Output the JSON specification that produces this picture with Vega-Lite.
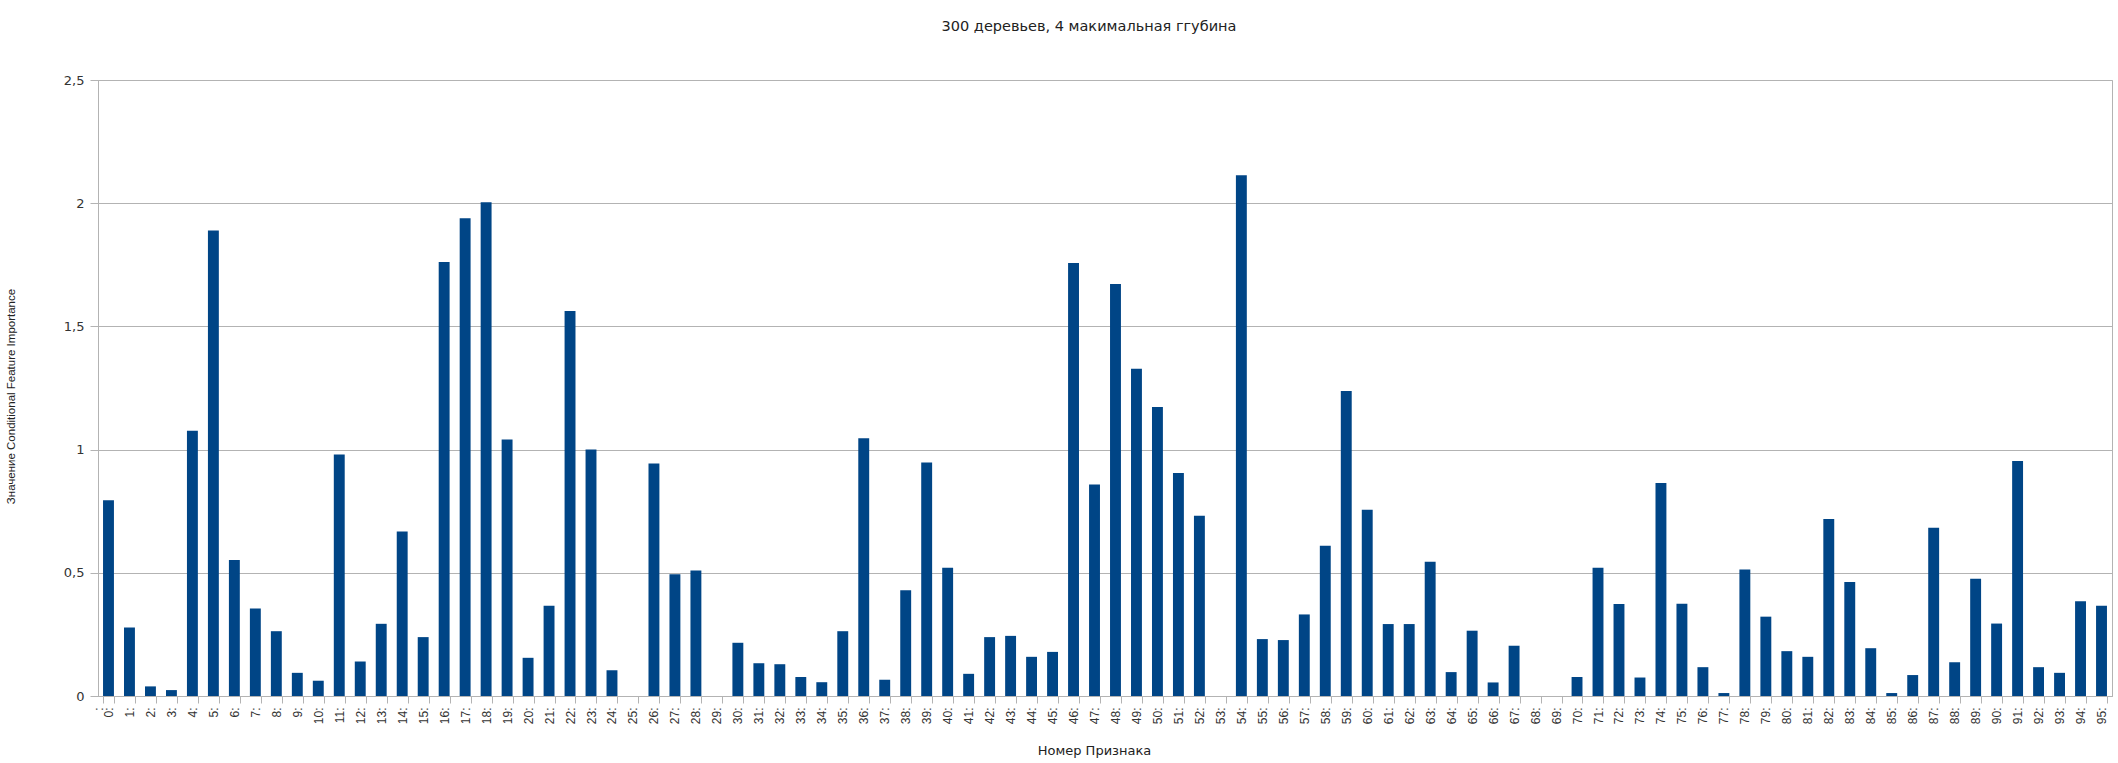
{
  "$schema": "https://vega.github.io/schema/vega-lite/v6.json",
  "autosize": {"type": "none"},
  "padding": {"left": 98, "top": 80, "right": 6, "bottom": 67},
  "width": 2014,
  "height": 616,
  "background": "white",
  "title": {
    "text": "300 деревьев, 4 макимальная ггубина",
    "font": "DejaVu Sans",
    "fontSize": 14.5,
    "fontWeight": "normal",
    "color": "#222222",
    "anchor": "middle",
    "dx": -16,
    "offset": 40
  },
  "data": {
    "values": [
      {"feature": 0, "value": 0.794}, {"feature": 1, "value": 0.278}, {"feature": 2, "value": 0.039},
      {"feature": 3, "value": 0.024}, {"feature": 4, "value": 1.076}, {"feature": 5, "value": 1.889},
      {"feature": 6, "value": 0.552}, {"feature": 7, "value": 0.355}, {"feature": 8, "value": 0.263},
      {"feature": 9, "value": 0.094}, {"feature": 10, "value": 0.062}, {"feature": 11, "value": 0.98},
      {"feature": 12, "value": 0.14}, {"feature": 13, "value": 0.293}, {"feature": 14, "value": 0.668},
      {"feature": 15, "value": 0.239}, {"feature": 16, "value": 1.761}, {"feature": 17, "value": 1.939},
      {"feature": 18, "value": 2.004}, {"feature": 19, "value": 1.041}, {"feature": 20, "value": 0.155},
      {"feature": 21, "value": 0.366}, {"feature": 22, "value": 1.562}, {"feature": 23, "value": 1.0},
      {"feature": 24, "value": 0.104}, {"feature": 25, "value": 0}, {"feature": 26, "value": 0.944},
      {"feature": 27, "value": 0.494}, {"feature": 28, "value": 0.509}, {"feature": 29, "value": 0},
      {"feature": 30, "value": 0.216}, {"feature": 31, "value": 0.133}, {"feature": 32, "value": 0.129},
      {"feature": 33, "value": 0.077}, {"feature": 34, "value": 0.056}, {"feature": 35, "value": 0.263},
      {"feature": 36, "value": 1.046}, {"feature": 37, "value": 0.066}, {"feature": 38, "value": 0.429},
      {"feature": 39, "value": 0.948}, {"feature": 40, "value": 0.521}, {"feature": 41, "value": 0.09},
      {"feature": 42, "value": 0.239}, {"feature": 43, "value": 0.244}, {"feature": 44, "value": 0.159},
      {"feature": 45, "value": 0.179}, {"feature": 46, "value": 1.757}, {"feature": 47, "value": 0.858},
      {"feature": 48, "value": 1.672}, {"feature": 49, "value": 1.328}, {"feature": 50, "value": 1.173},
      {"feature": 51, "value": 0.905}, {"feature": 52, "value": 0.732}, {"feature": 53, "value": 0},
      {"feature": 54, "value": 2.113}, {"feature": 55, "value": 0.231}, {"feature": 56, "value": 0.227},
      {"feature": 57, "value": 0.331}, {"feature": 58, "value": 0.61}, {"feature": 59, "value": 1.238},
      {"feature": 60, "value": 0.756}, {"feature": 61, "value": 0.292}, {"feature": 62, "value": 0.292},
      {"feature": 63, "value": 0.545}, {"feature": 64, "value": 0.097}, {"feature": 65, "value": 0.265},
      {"feature": 66, "value": 0.055}, {"feature": 67, "value": 0.204}, {"feature": 68, "value": 0},
      {"feature": 69, "value": 0}, {"feature": 70, "value": 0.077}, {"feature": 71, "value": 0.52},
      {"feature": 72, "value": 0.373}, {"feature": 73, "value": 0.075}, {"feature": 74, "value": 0.864},
      {"feature": 75, "value": 0.374}, {"feature": 76, "value": 0.117}, {"feature": 77, "value": 0.012},
      {"feature": 78, "value": 0.513}, {"feature": 79, "value": 0.322}, {"feature": 80, "value": 0.182},
      {"feature": 81, "value": 0.159}, {"feature": 82, "value": 0.718}, {"feature": 83, "value": 0.463},
      {"feature": 84, "value": 0.194}, {"feature": 85, "value": 0.012}, {"feature": 86, "value": 0.085},
      {"feature": 87, "value": 0.683}, {"feature": 88, "value": 0.137}, {"feature": 89, "value": 0.476},
      {"feature": 90, "value": 0.294}, {"feature": 91, "value": 0.954}, {"feature": 92, "value": 0.117},
      {"feature": 93, "value": 0.094}, {"feature": 94, "value": 0.385}, {"feature": 95, "value": 0.366}
    ]
  },
  "mark": {"type": "bar", "color": "#004586"},
  "encoding": {
    "x": {
      "field": "feature",
      "type": "ordinal",
      "scale": {"paddingInner": 0.48, "paddingOuter": 0.24},
      "axis": {
        "title": "Номер Признака",
        "titleFont": "DejaVu Sans",
        "titleFontSize": 13,
        "titleFontWeight": "normal",
        "titleColor": "#222222",
        "titleX": 996,
        "titleY": 54,
        "titleBaseline": "middle",
        "titleAnchor": "middle",
        "labelExpr": "datum.label + ':'",
        "labelAngle": 270,
        "labelAlign": "right",
        "labelBaseline": "middle",
        "labelFont": "Liberation Sans",
        "labelFontSize": 12,
        "labelColor": "#333333",
        "labelPadding": 4,
        "labelOverlap": false,
        "tickBand": "extent",
        "tickSize": 7,
        "tickColor": "#b3b3b3",
        "domainColor": "#b3b3b3",
        "grid": false
      }
    },
    "y": {
      "field": "value",
      "type": "quantitative",
      "scale": {"domain": [0, 2.5], "nice": false},
      "axis": {
        "title": "Значение Conditional Feature Importance",
        "titleFont": "Liberation Sans",
        "titleFontSize": 11.5,
        "titleFontWeight": "normal",
        "titleColor": "#222222",
        "titleAngle": -90,
        "titleX": -87,
        "titleY": 316,
        "titleBaseline": "middle",
        "titleAnchor": "middle",
        "values": [0, 0.5, 1, 1.5, 2, 2.5],
        "labelExpr": "replace(toString(datum.value), '.', ',')",
        "labelFont": "DejaVu Sans",
        "labelFontSize": 13,
        "labelColor": "#333333",
        "labelPadding": 6,
        "tickSize": 8,
        "tickColor": "#b3b3b3",
        "domainColor": "#b3b3b3",
        "gridColor": "#b3b3b3"
      }
    }
  },
  "config": {
    "view": {"stroke": "#b3b3b3"}
  }
}
